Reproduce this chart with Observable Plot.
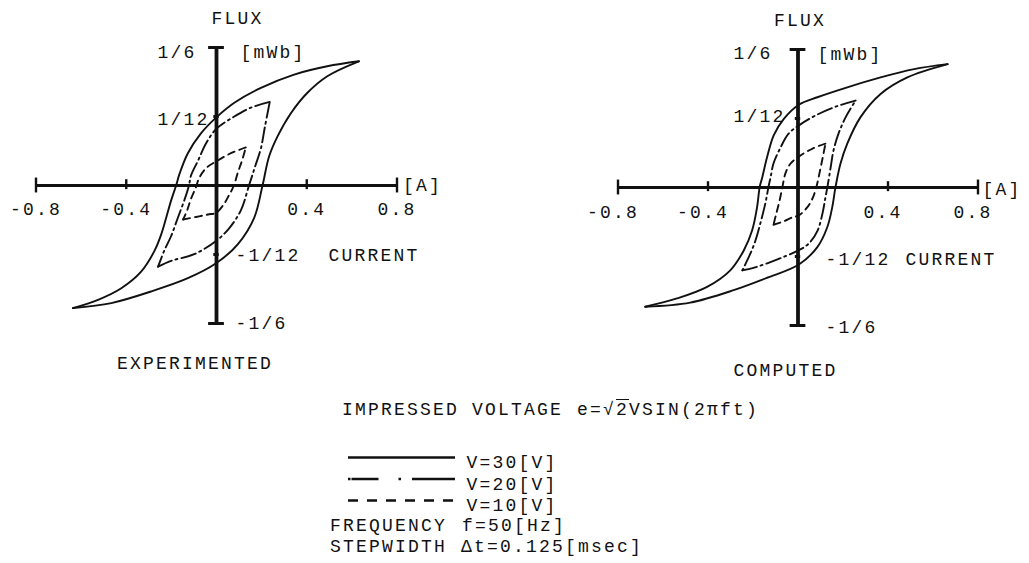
<!DOCTYPE html>
<html>
<head>
<meta charset="utf-8">
<script src="https://cdn.jsdelivr.net/npm/d3@7"></script>
<script src="https://cdn.jsdelivr.net/npm/@observablehq/plot@0.6"></script>
<style>
  body { margin: 0; background: #fff; width: 1029px; height: 563px; position: relative; overflow: hidden;
         font-family: "Liberation Mono", "DejaVu Sans Mono", monospace; color: #111; }
  .panel { position: absolute; }
  .note { position: absolute; font-size: 18px; letter-spacing: 2.2px; white-space: pre; line-height: 1; }
  .over { text-decoration: overline; }
</style>
</head>
<body>
<div id="experimented" class="panel" style="left:0;top:0"></div>
<div id="computed" class="panel" style="left:560px;top:0"></div>
<div id="legend" class="panel" style="left:340px;top:445px"></div>
<div class="note" style="left:342px;top:401px">IMPRESSED VOLTAGE</div>
<div class="note" style="left:577px;top:401px">e=√<span class="over">2</span>VSIN(2πft)</div>
<div class="note" style="left:330px;top:517px">FREQUENCY</div>
<div class="note" style="left:462px;top:517px">f=50[Hz]</div>
<div class="note" style="left:330px;top:538px">STEPWIDTH</div>
<div class="note" style="left:461px;top:538px">Δt=0.125[msec]</div>
<script>
// Axis ticks and their labels (current in A, flux in mWb)
const currentTicks = [-0.8, -0.4, 0.4, 0.8];
const currentLabels = ["-0.8", "-0.4", "0.4", "0.8"];
const fluxTicks = [1/6, 1/12, -1/12, -1/6];
const fluxLabels = ["1/6", "1/12", "-1/12", "-1/6"];

// Hysteresis loops, measured: [current (A), flux (mWb)]
// "Upper" = descending branch from the positive tip, "Lower" = ascending branch.
const exp30Upper = [[0.631,0.150],[0.491,0.144],[0.344,0.134],[0.197,0.118],[0.079,0.100],[-0.002,0.082],[-0.069,0.063],[-0.127,0.039],[-0.164,0.014],[-0.179,0],[-0.201,-0.018],[-0.223,-0.039],[-0.245,-0.059],[-0.275,-0.079],[-0.334,-0.104],[-0.422,-0.124],[-0.525,-0.138],[-0.636,-0.148]];
const exp30Lower = [[-0.636,-0.148],[-0.466,-0.142],[-0.290,-0.128],[-0.127,-0.112],[-0.002,-0.094],[0.094,-0.071],[0.167,-0.039],[0.204,0],[0.233,0.035],[0.270,0.059],[0.329,0.087],[0.403,0.112],[0.491,0.132],[0.631,0.150]];
const exp20Upper = [[0.236,0.101],[0.152,0.094],[0.077,0.083],[-0.002,0.068],[-0.046,0.051],[-0.082,0.030],[-0.113,0.012],[-0.122,0],[-0.139,-0.015],[-0.170,-0.038],[-0.201,-0.061],[-0.232,-0.079],[-0.259,-0.098]];
const exp20Lower = [[-0.259,-0.098],[-0.201,-0.091],[-0.099,-0.083],[-0.002,-0.067],[0.055,-0.052],[0.108,-0.030],[0.144,0],[0.170,0.022],[0.197,0.045],[0.214,0.070],[0.236,0.101]];
const exp10Upper = [[0.130,0.046],[0.064,0.039],[-0.002,0.029],[-0.046,0.021],[-0.077,0.009],[-0.091,-0.002],[-0.113,-0.016],[-0.130,-0.030],[-0.148,-0.041]];
const exp10Lower = [[-0.148,-0.041],[-0.091,-0.038],[-0.038,-0.035],[-0.002,-0.033],[0.029,-0.024],[0.055,-0.012],[0.077,0],[0.095,0.016],[0.113,0.030],[0.130,0.046]];

// Computed loops
const com30Upper = [[0.665,0.149],[0.516,0.143],[0.367,0.133],[0.219,0.121],[0.086,0.109],[0.004,0.100],[-0.063,0.083],[-0.108,0.063],[-0.137,0.037],[-0.159,0.012],[-0.170,0.001],[-0.182,-0.024],[-0.204,-0.052],[-0.241,-0.076],[-0.301,-0.100],[-0.404,-0.120],[-0.538,-0.134],[-0.679,-0.144]];
const com30Lower = [[-0.679,-0.144],[-0.479,-0.139],[-0.286,-0.124],[-0.137,-0.109],[0.004,-0.093],[0.086,-0.072],[0.130,-0.048],[0.152,-0.024],[0.167,0.001],[0.189,0.029],[0.219,0.053],[0.278,0.085],[0.367,0.113],[0.486,0.133],[0.665,0.149]];
const com20Upper = [[0.256,0.105],[0.171,0.098],[0.078,0.087],[0.004,0.075],[-0.042,0.065],[-0.078,0.048],[-0.109,0.029],[-0.122,0.012],[-0.131,0.001],[-0.145,-0.019],[-0.167,-0.043],[-0.189,-0.064],[-0.212,-0.080],[-0.247,-0.100]];
const com20Lower = [[-0.247,-0.100],[-0.198,-0.097],[-0.131,-0.091],[-0.056,-0.083],[0.002,-0.076],[0.047,-0.068],[0.087,-0.052],[0.109,-0.031],[0.122,-0.012],[0.131,0.001],[0.145,0.024],[0.158,0.045],[0.180,0.065],[0.212,0.085],[0.256,0.105]];
const com10Upper = [[0.122,0.053],[0.065,0.047],[0.002,0.037],[-0.033,0.029],[-0.056,0.017],[-0.069,0.001],[-0.082,-0.016],[-0.096,-0.031],[-0.109,-0.045]];
const com10Lower = [[-0.109,-0.045],[-0.065,-0.041],[-0.024,-0.036],[0.002,-0.034],[0.038,-0.025],[0.065,-0.013],[0.082,0.001],[0.096,0.018],[0.109,0.035],[0.122,0.053]];

// Legend
const voltages = [30, 20, 10];
const voltageLabels = ["V=30[V]", "V=20[V]", "V=10[V]"];

const INK = "#111";
const FONT = {fontFamily: '"Liberation Mono", "DejaVu Sans Mono", monospace', fontSize: "18px", letterSpacing: "2.2px", background: "transparent", color: INK, overflow: "visible"};
const dashes = {30: null, 20: "15,4,2,4", 10: "7,5"};

function toRows(branches) {
  return branches.flatMap(([v, key, pts]) => pts.map(([i, phi]) => ({v, key, i, phi})));
}

function loopPanel(rows, o) {
  const top = 1/6;
  // one text mark per flux label: positive values sit left of the axis, negative ones right
  const fluxText = fluxTicks.map((t, k) => Plot.text([t], {
    x: 0, y: d => d, text: () => fluxLabels[k], textAnchor: "start",
    dx: t > 0 ? o.posDx : o.negDx, dy: o.fluxDy[k], fill: INK
  }));
  return Plot.plot({
    width: o.width, height: 390,
    marginLeft: o.ml, marginRight: o.mr, marginTop: o.mt, marginBottom: o.mb,
    x: {domain: [-0.8, 0.8], axis: null},
    y: {domain: [-top, top], axis: null},
    style: FONT,
    marks: [
      // axes through the origin
      Plot.ruleY([0], {x1: -0.8, x2: 0.8, stroke: INK, strokeWidth: 3.2}),
      Plot.ruleX([0], {y1: -top, y2: top, stroke: INK, strokeWidth: 3.8}),
      Plot.ruleX(currentTicks, {x: d => d, y1: d => Math.abs(d) > 0.6 ? -0.009 : -0.005, y2: d => Math.abs(d) > 0.6 ? 0.009 : 0.007, stroke: INK, strokeWidth: 2.4}),
      Plot.ruleY(fluxTicks, {y: d => d, x1: d => Math.abs(d) > 0.1 ? -0.035 : -0.012, x2: d => Math.abs(d) > 0.1 ? 0.035 : 0.012, stroke: INK, strokeWidth: 3}),
      // tick labels
      Plot.text(currentTicks, {x: d => d, y: 0, text: (d, i) => currentLabels[i], dy: o.xdy, dx: o.xdx, fill: INK}),
      ...fluxText,
      // axis titles and units
      Plot.text(["FLUX"], {x: 0, y: top, dx: o.fluxDx, dy: -29, fill: INK}),
      Plot.text(["[mWb]"], {x: 0, y: top, textAnchor: "start", dx: o.unitDx, dy: 5, fill: INK}),
      Plot.text(["[A]"], {x: 0.8, y: 0, textAnchor: "start", dx: o.ampDx, dy: o.ampDy, fill: INK}),
      Plot.text(["CURRENT"], {x: 0, y: -1/12, textAnchor: "start", dx: o.curDx, dy: o.curDy, fill: INK}),
      Plot.text([o.caption], {frameAnchor: "bottom", dx: o.capDx, dy: o.capDy, fill: INK}),
      // hysteresis loops
      ...voltages.map(v => Plot.line(rows.filter(d => d.v === v), {
        x: "i", y: "phi", z: "key", curve: "catmull-rom",
        stroke: INK, strokeWidth: 1.9, strokeDasharray: dashes[v]
      }))
    ]
  });
}

document.getElementById("experimented").append(loopPanel(toRows([
  [30, "30u", exp30Upper], [30, "30l", exp30Lower],
  [20, "20u", exp20Upper], [20, "20l", exp20Lower],
  [10, "10u", exp10Upper], [10, "10l", exp10Lower]
]), {
  width: 480, ml: 35.5, mr: 83.5, mt: 47, mb: 67,
  xdy: 24, xdx: 0, posDx: -59, negDx: 19, fluxDy: [5, 3, 1, 0],
  fluxDx: 21, unitDx: 24, ampDx: 6, ampDy: 0, curDx: 112, curDy: 1,
  caption: "EXPERIMENTED", capDx: -21.5, capDy: 45
}));

document.getElementById("computed").append(loopPanel(toRows([
  [30, "30u", com30Upper], [30, "30l", com30Lower],
  [20, "20u", com20Upper], [20, "20l", com20Lower],
  [10, "10u", com10Upper], [10, "10l", com10Lower]
]), {
  width: 469, ml: 57.5, mr: 51.5, mt: 49, mb: 65,
  xdy: 25, xdx: -5, posDx: -64.5, negDx: 27.5, fluxDy: [4, -2, 3, 2],
  fluxDx: 2, unitDx: 19.5, ampDx: 4.5, ampDy: 2, curDx: 107.5, curDy: 3,
  caption: "COMPUTED", capDx: -12.5, capDy: 50
}));

// Line-style key
document.getElementById("legend").append(Plot.plot({
  width: 200, height: 70, margin: 0,
  x: {domain: [0, 1], range: [8, 115], axis: null},
  y: {domain: [30, 10], range: [12, 55], axis: null},
  style: FONT,
  marks: [
    ...voltages.map(v => Plot.ruleY([v], {x1: 0, x2: 1, stroke: INK, strokeWidth: 2.4,
      strokeDasharray: v === 30 ? null : v === 20 ? "2.5,1,27,20,2.5,11,60" : "10,9"})),
    Plot.text(voltages, {x: 1, y: d => d, text: (d, i) => voltageLabels[i], textAnchor: "start", dx: 11, dy: 5, fill: INK})
  ]
}));
</script>
</body>
</html>
